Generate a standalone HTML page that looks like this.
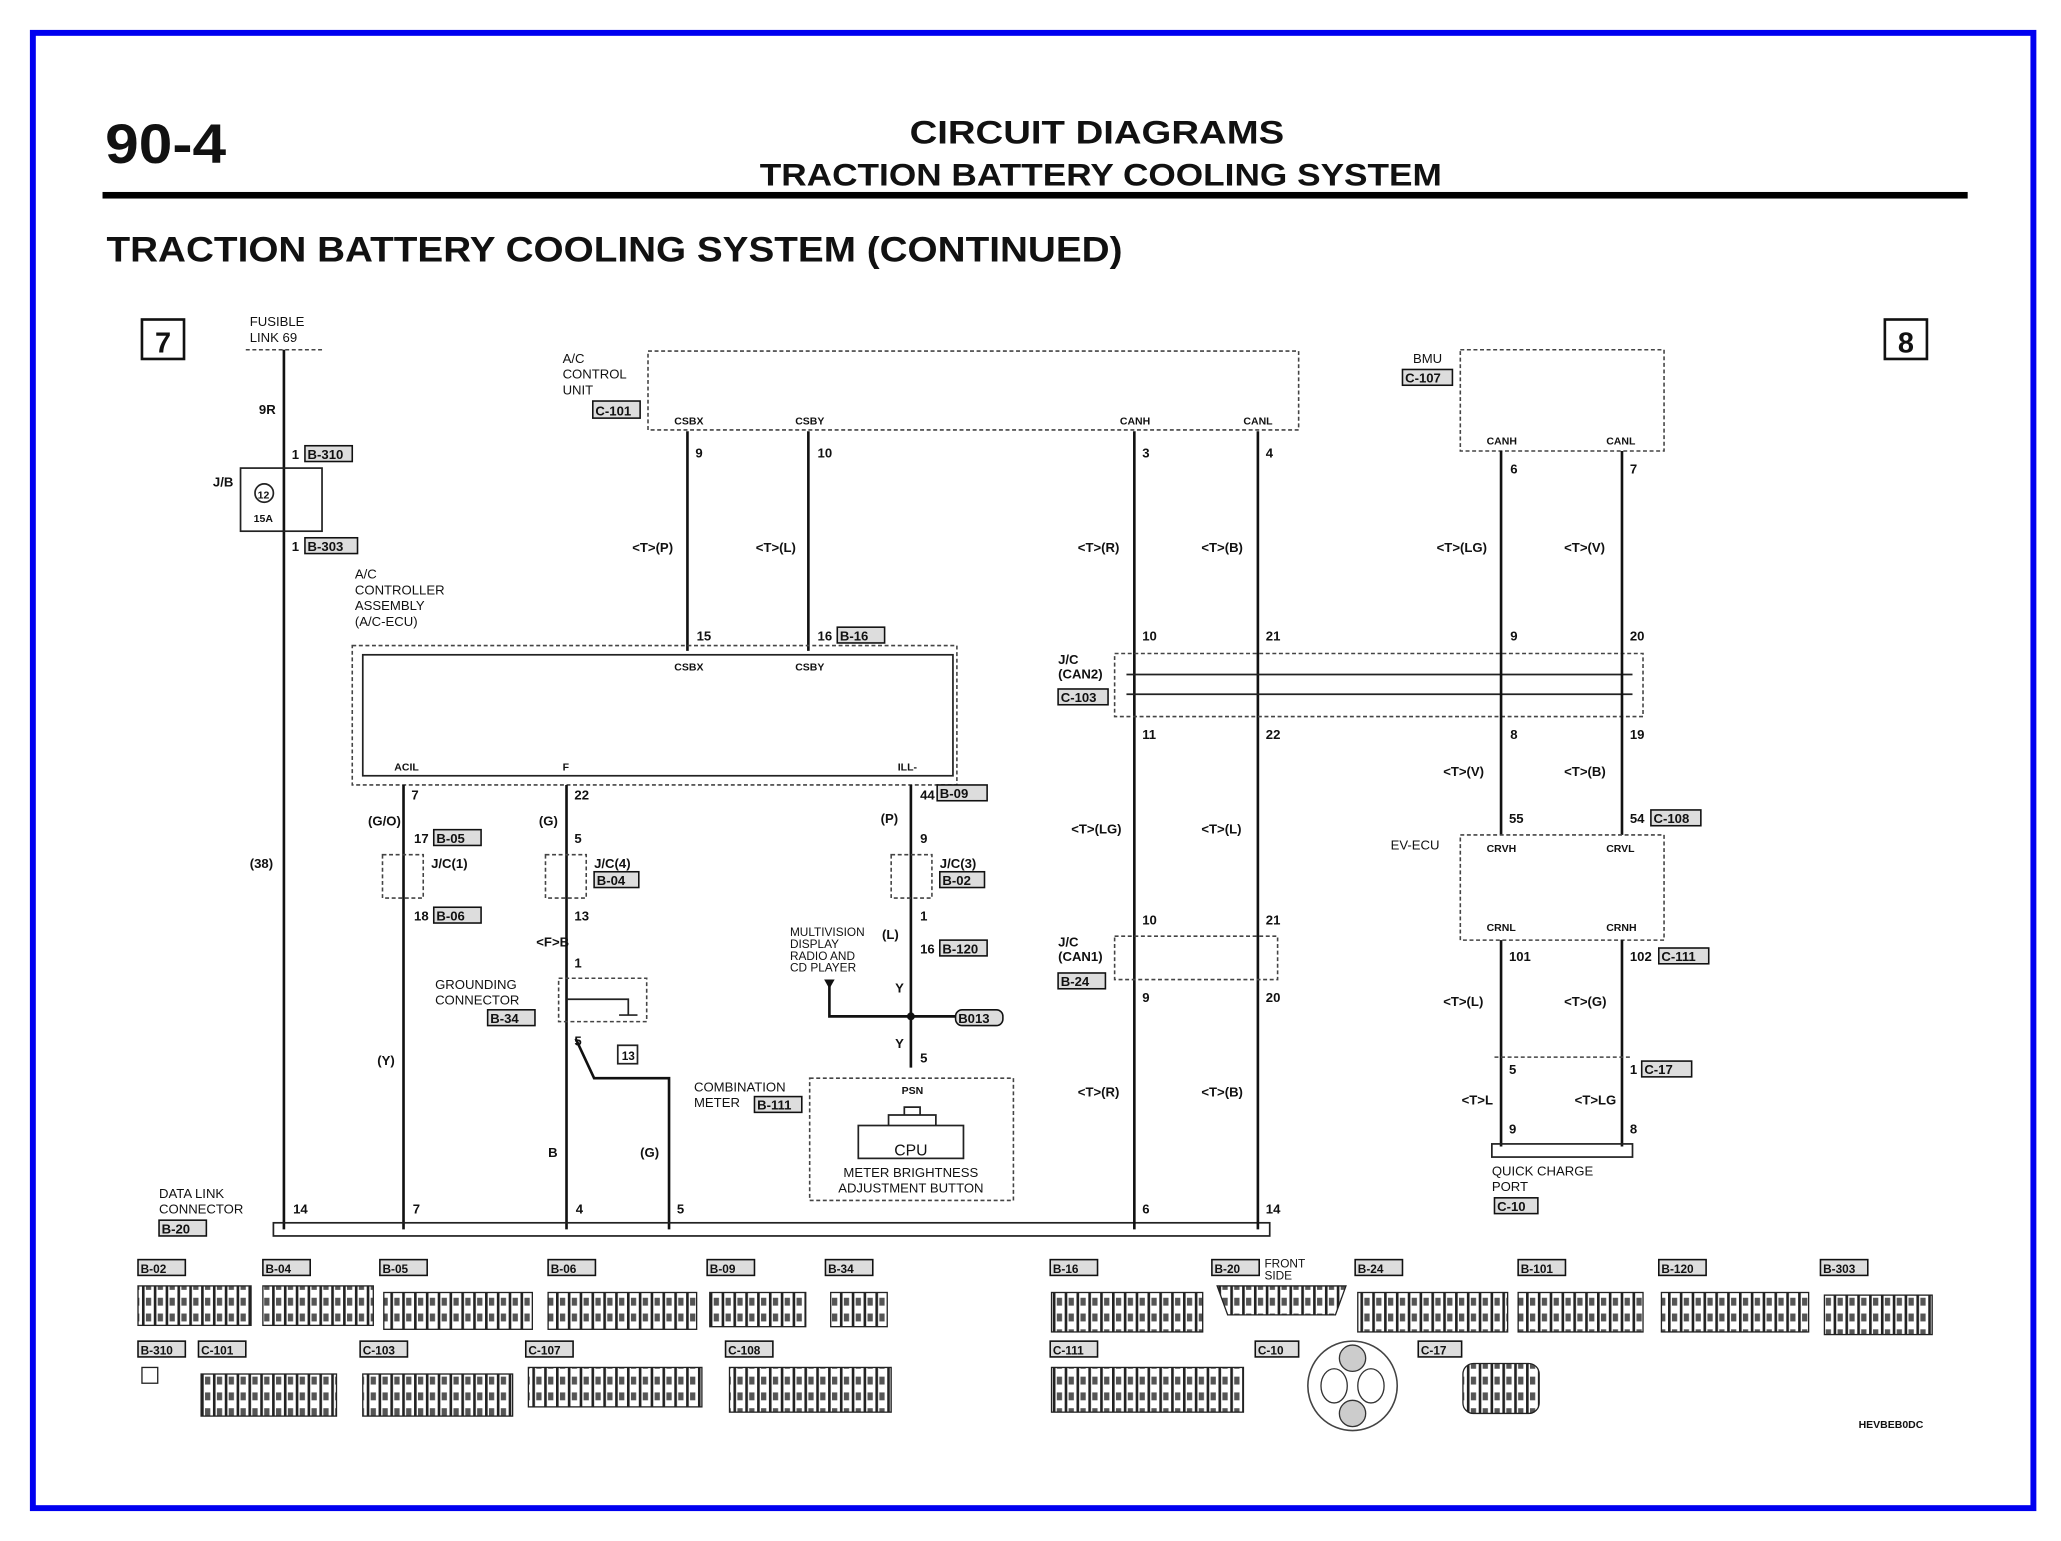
<!DOCTYPE html>
<html><head><meta charset="utf-8"><style>
html,body{margin:0;padding:0;background:#fff}
svg{display:block}
text{font-family:"Liberation Sans",sans-serif;fill:#111}
.t{font-size:10px}
.b{font-weight:bold}
.w{stroke:#111;stroke-width:2;fill:none}
.d{stroke:#444;stroke-width:1.2;fill:none;stroke-dasharray:3 2}
.s{stroke:#222;stroke-width:1.3;fill:none}
.tag{stroke:#111;stroke-width:1.2;fill:#ddd}
</style></head><body>
<svg width="2061" height="1541" viewBox="0 0 1568 1172" preserveAspectRatio="none" xmlns="http://www.w3.org/2000/svg">
<defs>
<pattern id="pin" width="9" height="12" patternUnits="userSpaceOnUse"><rect width="9" height="12" fill="#fff"/><rect x="0" y="0" width="2" height="12" fill="#222"/><rect x="3" y="3" width="4" height="6" fill="#555"/></pattern>
</defs>
<rect x="0" y="0" width="1568" height="1172" fill="#fff"/>
<rect x="25" y="25" width="1522" height="1122" fill="none" stroke="#0000f0" stroke-width="4.5"/>
<text x="80" y="124" font-size="42" font-weight="bold" textLength="92" lengthAdjust="spacingAndGlyphs">90-4</text>
<text x="692" y="109" font-size="25" font-weight="bold" textLength="285" lengthAdjust="spacingAndGlyphs">CIRCUIT DIAGRAMS</text>
<text x="578" y="141" font-size="24" font-weight="bold" textLength="519" lengthAdjust="spacingAndGlyphs">TRACTION BATTERY COOLING SYSTEM</text>
<rect x="78" y="146" width="1419" height="5" fill="#000"/>
<text x="81" y="199" font-size="27" font-weight="bold" textLength="773" lengthAdjust="spacingAndGlyphs">TRACTION BATTERY COOLING SYSTEM (CONTINUED)</text>
<rect x="108" y="243" width="32" height="30" fill="none" stroke="#111" stroke-width="2"/><text x="124" y="268" font-size="22" font-weight="bold" text-anchor="middle">7</text>
<rect x="1434" y="243" width="32" height="30" fill="none" stroke="#111" stroke-width="2"/><text x="1450" y="268" font-size="22" font-weight="bold" text-anchor="middle">8</text>

<text x="190" y="248" class="t">FUSIBLE</text><text x="190" y="260" class="t">LINK 69</text>
<line x1="187" y1="266" x2="246" y2="266" class="d"/>
<line x1="216" y1="266" x2="216" y2="935" class="w"/>
<text x="197" y="315" class="t b">9R</text>
<text x="222" y="349" class="t b">1</text><rect x="232" y="339" width="36" height="12" class="tag"/><text x="234" y="349" class="t b">B-310</text>
<text x="162" y="370" class="t b">J/B</text>
<rect x="183" y="356" width="62" height="48" class="s"/>
<circle cx="201" cy="375" r="7" class="s"/><text x="196" y="379" font-size="8" font-weight="bold">12</text>
<text x="193" y="397" font-size="8" font-weight="bold">15A</text>
<text x="222" y="419" class="t b">1</text><rect x="232" y="409" width="40" height="12" class="tag"/><text x="234" y="419" class="t b">B-303</text>
<text x="190" y="660" class="t b">(38)</text>
<text x="287" y="810" class="t b">(Y)</text>

<text x="428" y="276" class="t">A/C</text><text x="428" y="288" class="t">CONTROL</text><text x="428" y="300" class="t">UNIT</text>
<rect x="451" y="305" width="36" height="13" class="tag"/><text x="453" y="316" class="t b">C-101</text>
<rect x="493" y="267" width="495" height="60" class="d"/>
<text x="513" y="323" font-size="8" font-weight="bold">CSBX</text><text x="605" y="323" font-size="8" font-weight="bold">CSBY</text>
<text x="852" y="323" font-size="8" font-weight="bold">CANH</text><text x="946" y="323" font-size="8" font-weight="bold">CANL</text>
<line x1="523" y1="328" x2="523" y2="495" class="w"/><line x1="615" y1="328" x2="615" y2="495" class="w"/>
<text x="529" y="348" class="t b">9</text><text x="622" y="348" class="t b">10</text>
<text x="481" y="420" class="t b">&lt;T&gt;(P)</text><text x="575" y="420" class="t b">&lt;T&gt;(L)</text>
<text x="530" y="487" class="t b">15</text><text x="622" y="487" class="t b">16</text>
<rect x="637" y="477" width="36" height="12" class="tag"/><text x="639" y="487" class="t b">B-16</text>

<text x="270" y="440" class="t">A/C</text><text x="270" y="452" class="t">CONTROLLER</text><text x="270" y="464" class="t">ASSEMBLY</text><text x="270" y="476" class="t">(A/C-ECU)</text>
<rect x="268" y="491" width="460" height="106" class="d"/>
<rect x="276" y="498" width="449" height="92" class="s"/>
<text x="513" y="510" font-size="8" font-weight="bold">CSBX</text><text x="605" y="510" font-size="8" font-weight="bold">CSBY</text>
<text x="300" y="586" font-size="8" font-weight="bold">ACIL</text><text x="428" y="586" font-size="8" font-weight="bold">F</text><text x="683" y="586" font-size="8" font-weight="bold">ILL-</text>
<line x1="307" y1="597" x2="307" y2="935" class="w"/><line x1="431" y1="597" x2="431" y2="935" class="w"/><line x1="693" y1="597" x2="693" y2="812" class="w"/>
<text x="313" y="608" class="t b">7</text><text x="437" y="608" class="t b">22</text><text x="700" y="608" class="t b">44</text>
<rect x="713" y="597" width="38" height="12" class="tag"/><text x="715" y="607" class="t b">B-09</text>
<text x="280" y="628" class="t b">(G/O)</text><text x="410" y="628" class="t b">(G)</text><text x="670" y="626" class="t b">(P)</text>
<text x="315" y="641" class="t b">17</text><rect x="330" y="631" width="36" height="12" class="tag"/><text x="332" y="641" class="t b">B-05</text>
<text x="437" y="641" class="t b">5</text><text x="700" y="641" class="t b">9</text>
<rect x="291" y="650" width="31" height="33" class="d"/><rect x="415" y="650" width="31" height="33" class="d"/><rect x="678" y="650" width="31" height="33" class="d"/>
<text x="328" y="660" class="t b">J/C(1)</text><text x="452" y="660" class="t b">J/C(4)</text><text x="715" y="660" class="t b">J/C(3)</text>
<rect x="452" y="663" width="34" height="12" class="tag"/><text x="454" y="673" class="t b">B-04</text>
<rect x="715" y="663" width="34" height="12" class="tag"/><text x="717" y="673" class="t b">B-02</text>
<text x="315" y="700" class="t b">18</text><rect x="330" y="690" width="36" height="12" class="tag"/><text x="332" y="700" class="t b">B-06</text>
<text x="437" y="700" class="t b">13</text><text x="700" y="700" class="t b">1</text>
<text x="408" y="720" class="t b">&lt;F&gt;B</text><text x="437" y="736" class="t b">1</text>
<text x="331" y="752" class="t">GROUNDING</text><text x="331" y="764" class="t">CONNECTOR</text>
<rect x="371" y="768" width="36" height="12" class="tag"/><text x="373" y="778" class="t b">B-34</text>
<rect x="425" y="744" width="67" height="33" class="d"/>
<path d="M431,760 H478 V772" class="s"/><line x1="471" y1="772" x2="485" y2="772" class="s"/>
<rect x="470" y="795" width="15" height="14" class="s"/><text x="473" y="806" font-size="9" font-weight="bold">13</text>
<text x="437" y="795" class="t b">5</text>
<path d="M438,790 L452,820 H509 V935" class="w"/>
<text x="417" y="880" class="t b">B</text><text x="487" y="880" class="t b">(G)</text>

<text x="601" y="712" font-size="9">MULTIVISION</text><text x="601" y="721" font-size="9">DISPLAY</text><text x="601" y="730" font-size="9">RADIO AND</text><text x="601" y="739" font-size="9">CD PLAYER</text>
<text x="671" y="714" class="t b">(L)</text><text x="700" y="725" class="t b">16</text>
<rect x="715" y="715" width="36" height="12" class="tag"/><text x="717" y="725" class="t b">B-120</text>
<path d="M631,745 V773 H728" class="w"/><polygon points="627,745 635,745 631,752" fill="#111"/>
<circle cx="693" cy="773" r="3" fill="#111"/>
<rect x="727" y="768" width="36" height="12" class="tag" rx="5"/><text x="729" y="778" class="t b">B013</text>
<text x="681" y="755" class="t b">Y</text><text x="681" y="797" class="t b">Y</text><text x="700" y="808" class="t b">5</text>
<text x="528" y="830" class="t">COMBINATION</text><text x="528" y="842" class="t">METER</text>
<rect x="574" y="834" width="36" height="12" class="tag"/><text x="576" y="844" class="t b">B-111</text>
<rect x="616" y="820" width="155" height="93" class="d"/>
<text x="686" y="832" font-size="8" font-weight="bold">PSN</text>
<rect x="653" y="856" width="80" height="25" class="s"/><path d="M676,856 V848 H712 V856 M688,848 V842 H700 V848" class="s"/>
<text x="693" y="879" font-size="12" text-anchor="middle">CPU</text>
<text x="693" y="895" font-size="10" text-anchor="middle">METER BRIGHTNESS</text><text x="693" y="907" font-size="10" text-anchor="middle">ADJUSTMENT BUTTON</text>

<text x="121" y="911" class="t">DATA LINK</text><text x="121" y="923" class="t">CONNECTOR</text>
<rect x="121" y="928" width="36" height="12" class="tag"/><text x="123" y="938" class="t b">B-20</text>
<rect x="208" y="930" width="758" height="10" class="s"/>
<text x="223" y="923" class="t b">14</text><text x="314" y="923" class="t b">7</text><text x="438" y="923" class="t b">4</text><text x="515" y="923" class="t b">5</text><text x="869" y="923" class="t b">6</text><text x="963" y="923" class="t b">14</text>

<line x1="863" y1="328" x2="863" y2="935" class="w"/><line x1="957" y1="328" x2="957" y2="935" class="w"/>
<text x="869" y="348" class="t b">3</text><text x="963" y="348" class="t b">4</text>
<text x="820" y="420" class="t b">&lt;T&gt;(R)</text><text x="914" y="420" class="t b">&lt;T&gt;(B)</text>
<text x="869" y="487" class="t b">10</text><text x="963" y="487" class="t b">21</text>
<text x="805" y="505" class="t b">J/C</text><text x="805" y="516" class="t b">(CAN2)</text>
<rect x="805" y="524" width="38" height="12" class="tag"/><text x="807" y="534" class="t b">C-103</text>
<rect x="848" y="497" width="402" height="48" class="d"/>
<line x1="857" y1="513" x2="1242" y2="513" class="s"/><line x1="857" y1="528" x2="1242" y2="528" class="s"/>
<text x="869" y="562" class="t b">11</text><text x="963" y="562" class="t b">22</text>
<text x="815" y="634" class="t b">&lt;T&gt;(LG)</text><text x="914" y="634" class="t b">&lt;T&gt;(L)</text>
<text x="869" y="703" class="t b">10</text><text x="963" y="703" class="t b">21</text>
<text x="805" y="720" class="t b">J/C</text><text x="805" y="731" class="t b">(CAN1)</text>
<rect x="805" y="740" width="36" height="12" class="tag"/><text x="807" y="750" class="t b">B-24</text>
<rect x="848" y="712" width="124" height="33" class="d"/>
<text x="869" y="762" class="t b">9</text><text x="963" y="762" class="t b">20</text>
<text x="820" y="834" class="t b">&lt;T&gt;(R)</text><text x="914" y="834" class="t b">&lt;T&gt;(B)</text>

<text x="1075" y="276" class="t">BMU</text>
<rect x="1067" y="281" width="38" height="12" class="tag"/><text x="1069" y="291" class="t b">C-107</text>
<rect x="1111" y="266" width="155" height="77" class="d"/>
<text x="1131" y="338" font-size="8" font-weight="bold">CANH</text><text x="1222" y="338" font-size="8" font-weight="bold">CANL</text>
<line x1="1142" y1="343" x2="1142" y2="635" class="w"/><line x1="1234" y1="343" x2="1234" y2="635" class="w"/>
<text x="1149" y="360" class="t b">6</text><text x="1240" y="360" class="t b">7</text>
<text x="1093" y="420" class="t b">&lt;T&gt;(LG)</text><text x="1190" y="420" class="t b">&lt;T&gt;(V)</text>
<text x="1149" y="487" class="t b">9</text><text x="1240" y="487" class="t b">20</text>
<text x="1149" y="562" class="t b">8</text><text x="1240" y="562" class="t b">19</text>
<text x="1098" y="590" class="t b">&lt;T&gt;(V)</text><text x="1190" y="590" class="t b">&lt;T&gt;(B)</text>
<text x="1148" y="626" class="t b">55</text><text x="1240" y="626" class="t b">54</text>
<rect x="1256" y="616" width="38" height="12" class="tag"/><text x="1258" y="626" class="t b">C-108</text>
<text x="1058" y="646" class="t">EV-ECU</text>
<rect x="1111" y="635" width="155" height="80" class="d"/>
<text x="1131" y="648" font-size="8" font-weight="bold">CRVH</text><text x="1222" y="648" font-size="8" font-weight="bold">CRVL</text>
<text x="1131" y="708" font-size="8" font-weight="bold">CRNL</text><text x="1222" y="708" font-size="8" font-weight="bold">CRNH</text>
<line x1="1142" y1="715" x2="1142" y2="872" class="w"/><line x1="1234" y1="715" x2="1234" y2="872" class="w"/>
<text x="1148" y="731" class="t b">101</text><text x="1240" y="731" class="t b">102</text>
<rect x="1262" y="721" width="38" height="12" class="tag"/><text x="1264" y="731" class="t b">C-111</text>
<text x="1098" y="765" class="t b">&lt;T&gt;(L)</text><text x="1190" y="765" class="t b">&lt;T&gt;(G)</text>
<line x1="1137" y1="804" x2="1240" y2="804" class="d"/>
<text x="1148" y="817" class="t b">5</text><text x="1240" y="817" class="t b">1</text>
<rect x="1249" y="807" width="38" height="12" class="tag"/><text x="1251" y="817" class="t b">C-17</text>
<text x="1112" y="840" class="t b">&lt;T&gt;L</text><text x="1198" y="840" class="t b">&lt;T&gt;LG</text>
<text x="1148" y="862" class="t b">9</text><text x="1240" y="862" class="t b">8</text>
<rect x="1135" y="870" width="107" height="10" class="s"/>
<text x="1135" y="894" class="t">QUICK CHARGE</text><text x="1135" y="906" class="t">PORT</text>
<rect x="1137" y="911" width="33" height="12" class="tag"/><text x="1139" y="921" class="t b">C-10</text>

<g font-size="9" font-weight="bold">
<rect x="105" y="958" width="36" height="12" class="tag"/><text x="107" y="968">B-02</text>
<rect x="105" y="978" width="86" height="30" fill="url(#pin)" stroke="#222"/>
<rect x="200" y="958" width="36" height="12" class="tag"/><text x="202" y="968">B-04</text>
<rect x="200" y="978" width="84" height="30" fill="url(#pin)" stroke="#222"/>
<rect x="289" y="958" width="36" height="12" class="tag"/><text x="291" y="968">B-05</text>
<rect x="292" y="983" width="113" height="28" fill="url(#pin)" stroke="#222"/>
<rect x="417" y="958" width="36" height="12" class="tag"/><text x="419" y="968">B-06</text>
<rect x="417" y="983" width="113" height="28" fill="url(#pin)" stroke="#222"/>
<rect x="538" y="958" width="36" height="12" class="tag"/><text x="540" y="968">B-09</text>
<rect x="540" y="983" width="73" height="26" fill="url(#pin)" stroke="#222"/>
<rect x="628" y="958" width="36" height="12" class="tag"/><text x="630" y="968">B-34</text>
<rect x="632" y="983" width="43" height="26" fill="url(#pin)" stroke="#222"/>
<rect x="799" y="958" width="36" height="12" class="tag"/><text x="801" y="968">B-16</text>
<rect x="800" y="983" width="115" height="30" fill="url(#pin)" stroke="#222"/>
<rect x="922" y="958" width="36" height="12" class="tag"/><text x="924" y="968">B-20</text><text x="962" y="964" font-weight="normal">FRONT</text><text x="962" y="973" font-weight="normal">SIDE</text>
<path d="M926,978 H1024 L1016,1000 H934 Z" fill="url(#pin)" stroke="#222"/>
<rect x="1031" y="958" width="36" height="12" class="tag"/><text x="1033" y="968">B-24</text>
<rect x="1033" y="983" width="114" height="30" fill="url(#pin)" stroke="#222"/>
<rect x="1155" y="958" width="36" height="12" class="tag"/><text x="1157" y="968">B-101</text>
<rect x="1155" y="983" width="95" height="30" fill="url(#pin)" stroke="#222"/>
<rect x="1262" y="958" width="36" height="12" class="tag"/><text x="1264" y="968">B-120</text>
<rect x="1264" y="983" width="112" height="30" fill="url(#pin)" stroke="#222"/>
<rect x="1385" y="958" width="36" height="12" class="tag"/><text x="1387" y="968">B-303</text>
<rect x="1388" y="985" width="82" height="30" fill="url(#pin)" stroke="#222"/>
<rect x="105" y="1020" width="36" height="12" class="tag"/><text x="107" y="1030">B-310</text>
<rect x="108" y="1040" width="12" height="12" fill="#fff" stroke="#222"/>
<rect x="151" y="1020" width="36" height="12" class="tag"/><text x="153" y="1030">C-101</text>
<rect x="153" y="1045" width="103" height="32" fill="url(#pin)" stroke="#222"/>
<rect x="274" y="1020" width="36" height="12" class="tag"/><text x="276" y="1030">C-103</text>
<rect x="276" y="1045" width="114" height="32" fill="url(#pin)" stroke="#222"/>
<rect x="400" y="1020" width="36" height="12" class="tag"/><text x="402" y="1030">C-107</text>
<rect x="402" y="1040" width="132" height="30" fill="url(#pin)" stroke="#222"/>
<rect x="552" y="1020" width="36" height="12" class="tag"/><text x="554" y="1030">C-108</text>
<rect x="555" y="1040" width="123" height="34" fill="url(#pin)" stroke="#222"/>
<rect x="799" y="1020" width="36" height="12" class="tag"/><text x="801" y="1030">C-111</text>
<rect x="800" y="1040" width="146" height="34" fill="url(#pin)" stroke="#222"/>
<rect x="955" y="1020" width="33" height="12" class="tag"/><text x="957" y="1030">C-10</text>
<circle cx="1029" cy="1054" r="34" fill="#fff" stroke="#444" stroke-width="1.2"/>
<circle cx="1029" cy="1033" r="10" fill="#ccc" stroke="#333"/><circle cx="1029" cy="1075" r="10" fill="#ccc" stroke="#333"/>
<ellipse cx="1015" cy="1054" rx="10" ry="13" fill="#fff" stroke="#333"/><ellipse cx="1043" cy="1054" rx="10" ry="13" fill="#fff" stroke="#333"/>
<rect x="1079" y="1020" width="33" height="12" class="tag"/><text x="1081" y="1030">C-17</text>
<rect x="1113" y="1037" width="58" height="38" rx="8" fill="url(#pin)" stroke="#222"/>
<text x="1414" y="1086" font-size="8">HEVBEB0DC</text>
</g>
</svg>
</body></html>
